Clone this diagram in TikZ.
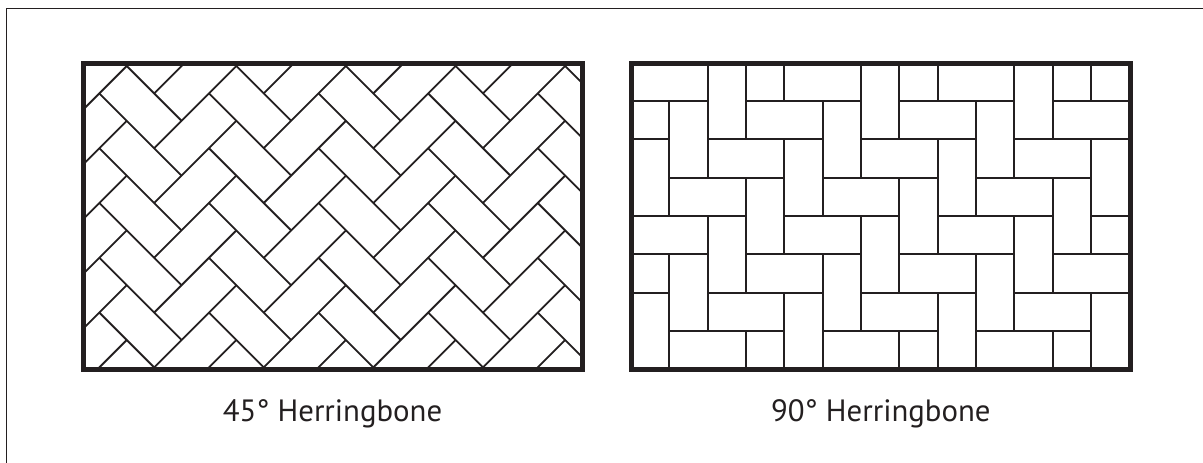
\documentclass[tikz,border=0pt]{standalone}
\usepackage{fontspec}
\setmainfont{PT Sans}
\definecolor{ink}{HTML}{231F20}
\tikzset{
  frameline/.style={draw=ink,line width=5.3pt},
  tileline/.style={draw=ink,line width=1.8pt},
  outerline/.style={draw=ink,line width=1.2pt},
  caption/.style={text=ink,font=\fontsize{30.8}{34}\selectfont,inner sep=0pt,anchor=base}
}
\begin{document}
\begin{tikzpicture}[x=1pt,y=-1pt]
\useasboundingbox (0,0) rectangle (1203,463);
\fill[white] (0,0) rectangle (1203,463);
\draw[outerline] (6.6,463) -- (6.6,8.8) -- (1203,8.8);
% 45 degree panel
\begin{scope}
\clip (83.7,63.3) rectangle (582.3,369.2);
\begin{scope}[shift={(99.33,66)},x=27.4pt,y=-27.4pt]
\foreach \a in {-1,...,5}{
  \foreach \b in {-3,...,7}{
    \draw[tileline] ({4*\a},{2*\b+1}) -- ({4*\a+3},{2*\b+4});
    \draw[tileline] ({4*\a+1},{2*\b}) -- ({4*\a-2},{2*\b+3});
  }
}
\end{scope}
\end{scope}
\draw[frameline] (83.7,63.3) rectangle (582.3,369.2);
% 90 degree panel
\begin{scope}
\clip (631.3,63.3) rectangle (1130.2,369.2);
\begin{scope}[shift={(669.3,101)},x=38.33pt,y=-38.33pt]
\foreach \r/\cols in {-1/{1,2,3,5,6,7,9,10,11},0/{0,1,2,4,5,6,8,9,10},1/{0,1,3,4,5,7,8,9,11},2/{0,2,3,4,6,7,8,10,11},3/{1,2,3,5,6,7,9,10,11},4/{0,1,2,4,5,6,8,9,10},5/{0,1,3,4,5,7,8,9,11},6/{0,2,3,4,6,7,8,10,11}}{
  \foreach \c in \cols { \draw[tileline] (\c,\r) -- (\c,{\r+1}); }
}
\foreach \r/\p/\q in {0/-1/1,0/2/5,0/6/9,0/10/12,1/-1/0,1/1/4,1/5/8,1/9/12,2/0/3,2/4/7,2/8/11,3/-1/2,3/3/6,3/7/10,3/11/12,4/-1/1,4/2/5,4/6/9,4/10/12,5/-1/0,5/1/4,5/5/8,5/9/12,6/0/3,6/4/7,6/8/11}{
  \draw[tileline] (\p,\r) -- (\q,\r);
}
\end{scope}
\end{scope}
\draw[frameline] (631.3,63.3) rectangle (1130.2,369.2);
\node[caption] (cap45) at (332.5,421.5) {45° Herringbone};
\node[caption] (cap90) at (880.8,421.5) {90° Herringbone};
\end{tikzpicture}
\end{document}
